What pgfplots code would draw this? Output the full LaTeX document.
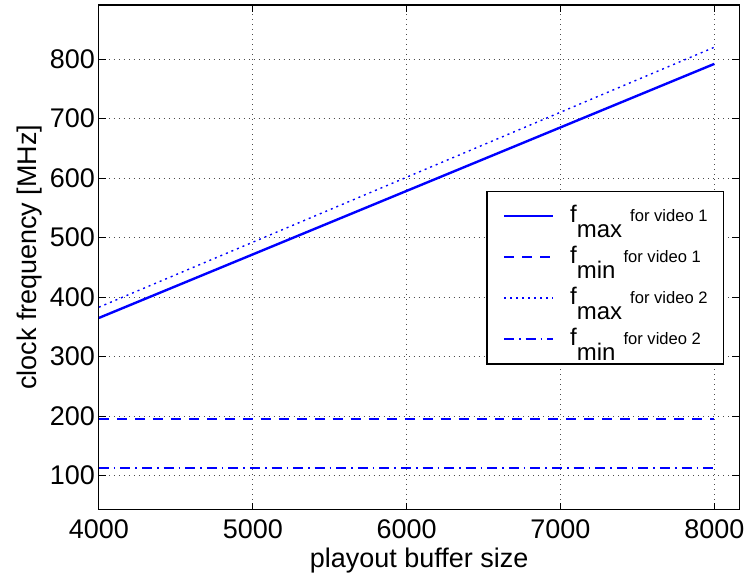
\documentclass[border=0pt]{standalone}
\usepackage{fontspec}
\setmainfont{Liberation Sans}
\usepackage{pgfplots}
\pgfplotsset{compat=1.18}

% legend text: f, lowered subscript, small "for video n" after it
\newcommand{\lentry}[2]{\raisebox{0pt}[13pt][7pt]{\fontsize{12}{14}\selectfont f\raisebox{-7.5pt}{#1}\hspace{4pt}\raisebox{0.5pt}{\fontsize{8.3}{10}\selectfont for video #2}}}

\begin{document}
\begin{tikzpicture}
\begin{axis}[
    scale only axis,
    width=320.5pt, height=252.5pt,
    xmin=4000, xmax=8162,
    ymin=43, ymax=891,
    xtick={4000,5000,6000,7000,8000},
    ytick={100,200,300,400,500,600,700,800},
    scaled x ticks=false,
    /pgf/number format/assume math mode=true,
    xticklabel={\pgfmathprintnumber[fixed,1000 sep={}]{\tick}},
    tick label style={font=\fontsize{13.5}{16}\selectfont},
    label style={font=\fontsize{13.5}{16}\selectfont},
    xticklabel style={yshift=-1.5pt},
    yticklabel style={xshift=1.5pt},
    xlabel={playout buffer size},
    ylabel={clock frequency [MHz]},
    xlabel style={yshift=2pt},
    ylabel style={yshift=-3pt},
    tick align=inside,
    major tick length=3.5pt,
    tick style={black, line width=0.5pt},
    axis line style={line width=0.6pt},
    grid=major,
    grid style={black!70, line width=0.4pt, dash pattern=on 0.5pt off 2pt},
    legend image code/.code={\draw[#1] (0pt,0pt) -- (24.5pt,0pt);},
    legend style={
        at={(0.605,0.632)}, anchor=north west,
        draw=black, line width=0.6pt, fill=white,
        inner xsep=8pt, inner ysep=2.5pt,
        row sep=0.5pt,
        cells={anchor=west},
        nodes={inner sep=0pt, text depth=},
        /tikz/every odd column/.append style={column sep=8pt},
    },
]

% f_max, video 1
\addplot[blue, line width=1.2pt] coordinates {(4000,365) (8000,792)};
\addlegendentry{\lentry{max}{1}}

% f_min, video 1
\addplot[blue, line width=1.2pt, dash pattern=on 5pt off 4pt] coordinates {(4000,195) (8000,195)};
\addlegendentry{\lentry{min}{1}}

% f_max, video 2
\addplot[blue, line width=0.7pt, dash pattern=on 1pt off 2pt] coordinates {(4000,383) (8000,820)};
\addlegendentry{\lentry{max}{2}}

% f_min, video 2
\addplot[blue, line width=1.2pt, dash pattern=on 5pt off 2.5pt on 0.8pt off 2.5pt] coordinates {(4000,113) (8000,113)};
\addlegendentry{\lentry{min}{2}}

\end{axis}
\path ([shift={(-49.5pt,-33.5pt)}]current axis.south west) rectangle ([shift={(5.5pt,2.5pt)}]current axis.north east);
\end{tikzpicture}
\end{document}
